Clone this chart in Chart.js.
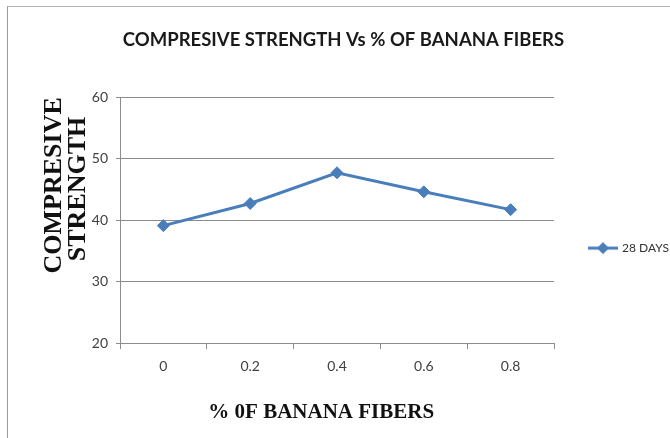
<!DOCTYPE html>
<html>
<head>
<meta charset="utf-8">
<script src="https://cdn.jsdelivr.net/npm/chart.js@4/dist/chart.umd.min.js"></script>
<style>
    body { margin: 0; background: #fff; }
    #wrap { position: relative; width: 670px; height: 438px; }
    #frame { position: absolute; left: 7px; top: 6px; right: 0; bottom: 0; border-left: 1px solid #9a9a9a; border-top: 1px solid #b0b0b0; }
    #chart { position: absolute; left: 0; top: 0; }
</style>
</head>
<body>
<div id="wrap">
    <div id="frame"></div>
    <canvas id="chart" width="670" height="438"></canvas>
</div>
<script>
const fiberPercent = ["0", "0.2", "0.4", "0.6", "0.8"];
const strength28Days = [39.1, 42.7, 47.7, 44.6, 41.7];
const yMin = 20, yMax = 60, yStep = 10;

const sans = "Lato, 'Liberation Sans', sans-serif";
const serif = "'Liberation Serif', 'Times New Roman', serif";
const blue = "#4a7ebb";

// legend marker: short line with a diamond, like the spreadsheet legend
const legendIcon = document.createElement("canvas");
legendIcon.width = 30;
legendIcon.height = 14;
const ic = legendIcon.getContext("2d");
ic.strokeStyle = blue;
ic.lineWidth = 3;
ic.beginPath();
ic.moveTo(0, 7);
ic.lineTo(30, 7);
ic.stroke();
ic.fillStyle = blue;
ic.beginPath();
ic.moveTo(15, 1);
ic.lineTo(21, 7);
ic.lineTo(15, 13);
ic.lineTo(9, 7);
ic.closePath();
ic.fill();

const ctx = document.getElementById("chart").getContext("2d");
new Chart(ctx, {
    type: "line",
    data: {
        labels: fiberPercent,
        datasets: [{
            label: "28 DAYS",
            data: strength28Days,
            borderColor: blue,
            backgroundColor: blue,
            borderWidth: 3,
            pointStyle: "rectRot",
            pointRadius: 6,
            pointBorderWidth: 1,
            tension: 0
        }]
    },
    options: {
        responsive: false,
        animation: false,
        layout: { padding: { left: 17, right: 0, top: 0, bottom: 0 } },
        plugins: {
            tooltip: { enabled: false },
            title: {
                display: true,
                text: "COMPRESIVE STRENGTH Vs % OF BANANA FIBERS",
                color: "#1a1a1a",
                font: { family: sans, size: 18.5, weight: "bold" },
                padding: { top: 29, bottom: 46 }
            },
            legend: {
                position: "right",
                align: "center",
                fullSize: false,
                maxWidth: 116,
                title: { display: true, text: " ", font: { size: 10 }, padding: { top: 44, bottom: 0 } },
                labels: {
                    usePointStyle: true,
                    pointStyleWidth: 26,
                    padding: 36,
                    color: "#333",
                    font: { family: sans, size: 12 },
                    generateLabels: chart => {
                        const items = Chart.defaults.plugins.legend.labels.generateLabels(chart);
                        items.forEach(item => { item.pointStyle = legendIcon; });
                        return items;
                    }
                }
            }
        },
        scales: {
            x: {
                offset: true,
                grid: { offset: true, drawOnChartArea: false, drawTicks: true, tickLength: 6, color: "#8c8c8c" },
                border: { display: true, color: "#8c8c8c" },
                ticks: { color: "#404040", font: { family: sans, size: 14 }, padding: 9 },
                title: {
                    display: true,
                    text: "% 0F BANANA FIBERS      ",
                    color: "#111",
                    font: { family: serif, size: 21, weight: "bold" },
                    padding: { top: 0, bottom: 13 }
                },
                afterFit: scale => { scale.height = 95; }
            },
            y: {
                min: yMin,
                max: yMax,
                ticks: { stepSize: yStep, color: "#404040", font: { family: sans, size: 14 }, padding: 8 },
                grid: { color: "#8c8c8c", tickLength: 4 },
                border: { display: true, color: "#8c8c8c" },
                title: {
                    display: true,
                    align: "end",
                    text: ["COMPRESIVE", "STRENGTH   "],
                    color: "#111",
                    font: { family: serif, size: 26, weight: "bold", lineHeight: 0.93 },
                    padding: { top: 25, bottom: 0 }
                },
                afterFit: scale => { scale.width = 103; }
            }
        }
    }
});
</script>
</body>
</html>
